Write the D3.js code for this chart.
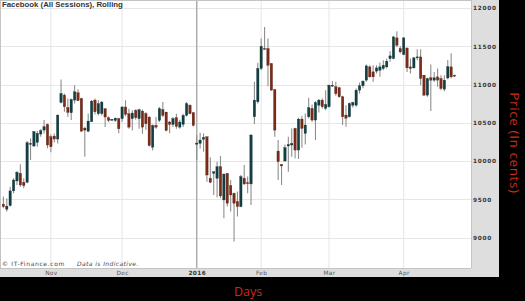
<!DOCTYPE html>
<html><head><meta charset="utf-8">
<script src="https://cdn.jsdelivr.net/npm/d3@7"></script>
<style>
html,body{margin:0;padding:0;background:#000;}
svg{display:block;}
</style></head>
<body>
<svg id="chart" width="525" height="301"></svg>
<script>
// ---- data ----
const opens  = [9435,9370,9417,9609,9739,9839,9722,9722,10220,10196,10243,10352,10404,10478,10317,10326,10287,10765,10861,10700,10630,10796,10891,10817,10430,10390,10513,10796,10618,10620,10684,10565,10540,10530,10553,10553,10706,10618,10553,10662,10553,10653,10618,10575,10180,10465,10531,10671,10640,10510,10478,10566,10443,10478,10596,10728,10631,10220,10230,10283,10317,9774,9839,9774,9926,9491,9839,9678,9578,9470,9404,9774,9717,9700,10578,10774,11209,11470,11470,11274,10935,10130,9957,10000,10196,10209,10426,10143,10548,10361,10578,10687,10535,10730,10796,10687,10709,10985,10970,10957,10839,10600,10578,10730,10730,10926,10983,11057,11230,11165,11174,11187,11209,11230,11339,11339,11609,11470,11391,11478,11230,11217,11348,11361,11122,10861,11087,11057,11100,11078,10939,11085,11230,11120];
const highs  = [9535,9513,9665,9774,9870,9957,9774,10261,10296,10391,10391,10417,10535,10491,10348,10361,10609,11065,10883,10817,10817,10991,10939,10826,10448,10622,10796,10817,10794,10785,10684,10583,10550,10570,10566,10715,10794,10684,10662,10675,10684,10671,10640,10583,10478,10575,10706,10772,10640,10522,10575,10618,10540,10618,10772,10741,10640,10339,10370,10361,10317,10048,9861,9991,10065,9830,9839,9752,9587,9600,9817,9948,9796,10352,11035,11283,11600,11752,11600,11280,10935,10274,9957,10217,10317,10426,10435,10565,10591,10622,10826,10739,10783,10809,10817,10926,11000,11043,11035,10970,10852,10730,10765,10775,10948,11026,11057,11261,11252,11252,11252,11287,11317,11339,11435,11635,11696,11504,11618,11478,11339,11361,11461,11461,11122,11087,11261,11165,11209,11122,11122,11320,11410,11130];
const lows   = [9383,9339,9404,9578,9687,9665,9643,9709,10013,10187,10187,10317,10361,10165,10113,10243,10230,10752,10643,10578,10535,10752,10783,10383,10057,10375,10513,10609,10596,10596,10443,10509,10530,10509,10364,10509,10583,10421,10399,10540,10421,10355,10408,10189,10136,10421,10509,10575,10390,10364,10443,10421,10421,10443,10583,10610,10452,10013,10165,10122,9730,9709,9556,9526,9513,9252,9404,9339,8948,9274,9396,9687,9578,9426,10483,10752,11187,11457,10978,10920,10317,9752,9687,9991,9861,10057,10035,10026,10174,10217,10557,10513,10274,10635,10687,10665,10696,10970,10852,10826,10470,10448,10570,10700,10709,10883,10952,11035,11087,11035,11143,11100,11187,11209,11296,11330,11491,11404,11383,11165,11143,11209,11317,10991,10852,10839,10652,11035,10970,10926,10913,11070,11080,11100];
const closes = [9404,9410,9609,9752,9852,9687,9678,10239,10230,10383,10361,10396,10448,10209,10187,10287,10600,10883,10709,10635,10804,10904,10790,10390,10404,10522,10783,10643,10750,10770,10575,10530,10545,10560,10421,10706,10610,10443,10627,10566,10671,10443,10487,10202,10465,10443,10684,10596,10399,10478,10553,10452,10509,10596,10750,10618,10465,10235,10274,10309,9817,9722,9861,9926,9543,9830,9448,9556,9448,9404,9796,9700,9709,10339,10796,11209,11500,11457,11252,10926,10404,9991,9935,10174,10217,10230,10143,10548,10426,10470,10696,10535,10765,10796,10709,10739,10991,10991,10880,10839,10578,10560,10752,10765,10926,10983,11043,11243,11100,11100,11217,11230,11252,11304,11374,11622,11513,11426,11609,11217,11209,11348,11361,11078,10861,11078,11057,11087,11057,10948,11057,11232,11100,11110];

const monthIdx    = [14, 35, 57, 76, 96, 118];
const monthLabels = ["Nov", "Dec", "2016", "Feb", "Mar", "Apr"];
const priceTicks  = [9000, 9500, 10000, 10500, 11000, 11500, 12000];

const title   = "Facebook (All Sessions), Rolling";
const credit  = "© IT-Finance.com";
const note    = "Data is Indicative.";
const yTitle  = "Price (In cents)";
const xTitle  = "Days";

// ---- layout ----
const svg = d3.select("#chart");
const plot = {l: 0, t: 0, r: 471, b: 268};
const panelR = 499, stripB = 277;

const candles = opens.map((o, i) => ({i, o, h: highs[i], l: lows[i], c: closes[i]}));

const x = d3.scaleLinear().domain([-1, 138]).range([plot.l, plot.r + 0.5]);
const y = d3.scaleLinear().domain([9000, 12000]).range([237.5, 8]);

// backgrounds
svg.append("rect").attr("x", 0).attr("y", 0).attr("width", 525).attr("height", 301).attr("fill", "#000");
svg.append("rect").attr("x", 0).attr("y", 0).attr("width", panelR).attr("height", stripB).attr("fill", "#dedede");
svg.append("rect").attr("x", plot.l).attr("y", plot.t).attr("width", plot.r - plot.l).attr("height", plot.b - plot.t).attr("fill", "#fff");

// grid
const g = svg.append("g");
g.selectAll("line.hg").data(priceTicks).join("line")
  .attr("x1", plot.l).attr("x2", plot.r)
  .attr("y1", d => Math.round(y(d)) + 0.5).attr("y2", d => Math.round(y(d)) + 0.5)
  .attr("stroke", "#e6e6e6").attr("stroke-width", 1);
g.selectAll("line.vg").data(monthIdx).join("line")
  .attr("x1", d => x(d)).attr("x2", d => x(d))
  .attr("y1", plot.t).attr("y2", plot.b)
  .attr("stroke", (d, k) => monthLabels[k] === "2016" ? "#a8a8a8" : "#e6e6e6")
  .attr("stroke-width", (d, k) => monthLabels[k] === "2016" ? 1.4 : 1);

// plot border
svg.append("line").attr("x1", 0).attr("x2", plot.r).attr("y1", 0.5).attr("y2", 0.5).attr("stroke", "#c4c4c4");
svg.append("line").attr("x1", 0.5).attr("x2", 0.5).attr("y1", 0).attr("y2", plot.b).attr("stroke", "#c4c4c4");
svg.append("line").attr("x1", plot.r + 0.5).attr("x2", plot.r + 0.5).attr("y1", 0).attr("y2", plot.b).attr("stroke", "#c4c4c4");
svg.append("line").attr("x1", 0).attr("x2", plot.r).attr("y1", plot.b + 0.5).attr("y2", plot.b + 0.5).attr("stroke", "#c4c4c4");

// candles
const cg = svg.append("g");
const bw = 2.4;
cg.selectAll("line.wick").data(candles).join("line")
  .attr("x1", d => x(d.i)).attr("x2", d => x(d.i))
  .attr("y1", d => y(d.h)).attr("y2", d => y(d.l))
  .attr("stroke", "#8e8e8e").attr("stroke-width", 1.1);
cg.selectAll("rect.body").data(candles).join("rect")
  .attr("x", d => x(d.i) - bw / 2)
  .attr("width", bw)
  .attr("y", d => y(Math.max(d.o, d.c)))
  .attr("height", d => Math.max(1, Math.abs(y(d.o) - y(d.c))))
  .attr("fill", d => d.c >= d.o ? "#133f42" : "#7a2a16")
  .attr("stroke", d => d.c >= d.o ? "#0c2c2e" : "#4f1b0e")
  .attr("stroke-width", 0.3);

// texts in plot
svg.append("text").attr("x", 2).attr("y", 7)
  .attr("font-family", "Liberation Sans, Arial, sans-serif").attr("font-weight", "bold")
  .attr("font-size", 7.8).attr("fill", "#333").text(title);
svg.append("text").attr("x", 2).attr("y", 266)
  .attr("font-family", "DejaVu Sans, sans-serif").attr("font-size", 6)
  .attr("letter-spacing", 0.65).attr("fill", "#444").text(credit);
svg.append("text").attr("x", 77).attr("y", 266)
  .attr("font-family", "DejaVu Sans, sans-serif").attr("font-style", "italic")
  .attr("letter-spacing", 0.4).attr("font-size", 6).attr("fill", "#444").text(note);

// right axis
const yAxis = d3.axisRight(y).tickValues(priceTicks).tickSize(0).tickPadding(0).tickFormat(d3.format("d"));
const ya = svg.append("g").attr("transform", `translate(${plot.r + 2},0)`).call(yAxis);
ya.select(".domain").remove();
ya.selectAll("text").attr("font-family", "DejaVu Sans, sans-serif").attr("font-weight", "bold")
  .attr("font-size", 5.8).attr("letter-spacing", 0.7).attr("fill", "#333");

// bottom axis
const xAxis = d3.axisBottom(x).tickValues(monthIdx).tickSize(0).tickPadding(0)
  .tickFormat((d, k) => monthLabels[k]);
const xa = svg.append("g").attr("transform", `translate(0,${plot.b + 3})`).call(xAxis);
xa.select(".domain").remove();
xa.selectAll("text").attr("font-family", "DejaVu Sans, sans-serif")
  .attr("font-size", 5.8).attr("letter-spacing", 0.4)
  .attr("font-weight", (d, k) => monthLabels[k] === "2016" ? "bold" : "normal")
  .attr("fill", (d, k) => monthLabels[k] === "2016" ? "#333" : "#555");

// axis titles
svg.append("text").attr("transform", `translate(510,143) rotate(90)`)
  .attr("text-anchor", "middle").attr("font-family", "Open Sans, sans-serif")
  .attr("font-size", 13.5).attr("letter-spacing", 0.6).attr("fill", "#cc2a1c").text(yTitle);
svg.append("text").attr("x", 248).attr("y", 296)
  .attr("text-anchor", "middle").attr("font-family", "Open Sans, sans-serif")
  .attr("font-size", 12.5).attr("fill", "#cc2a1c").text(xTitle);
</script>
</body></html>
